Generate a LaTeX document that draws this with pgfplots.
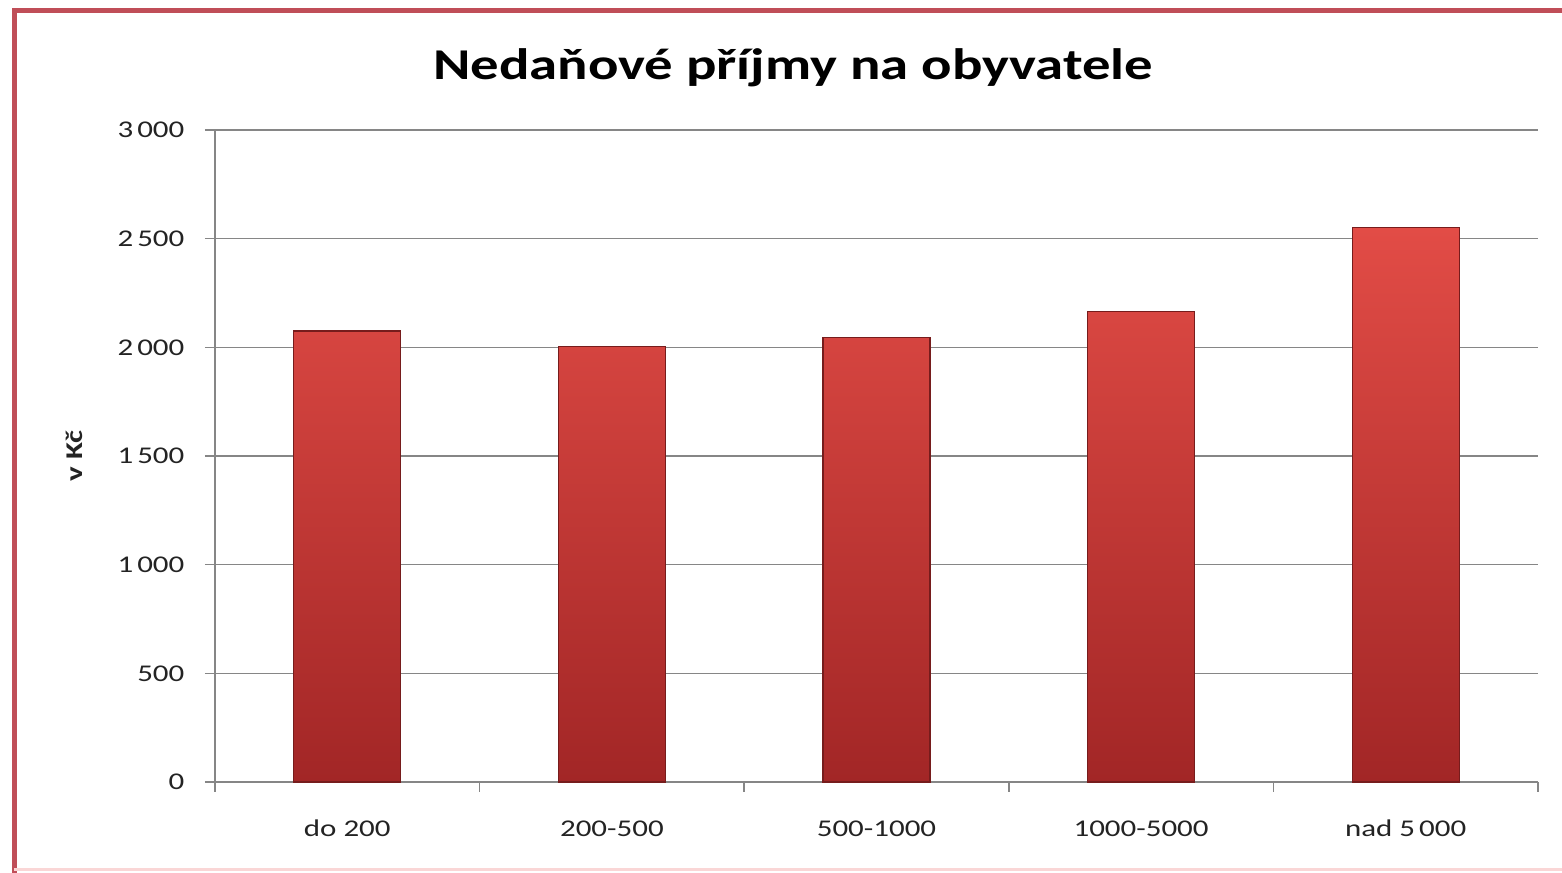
\documentclass[border=0pt]{standalone}
\usepackage{fontspec}
\setmainfont{Carlito}[FakeStretch=1.29]
\usepackage{pgfplots}
\pgfplotsset{compat=1.18}

\definecolor{framered}{RGB}{192,78,88}
\definecolor{framepink}{RGB}{250,214,214}
\definecolor{bartop}{RGB}{226,76,70}
\definecolor{barbot}{RGB}{162,38,38}
\definecolor{baredge}{RGB}{118,28,28}
\definecolor{gridgray}{RGB}{134,134,134}
\definecolor{labgray}{RGB}{35,35,35}

\begin{document}
\begin{tikzpicture}
\path[use as bounding box] (0pt,0pt) rectangle (468.6pt,261.9pt);
% outer frame (cut off on the right)
\draw[line width=1.5pt, framered] (4.2pt,0pt) -- (4.2pt,258.6pt) -- (470pt,258.6pt);
\draw[line width=0.8pt, framepink] (4.2pt,1.0pt) -- (470pt,1.0pt);

\begin{axis}[
    at={(64.5pt,27.3pt)}, anchor=south west,
    scale only axis,
    width=396.9pt, height=195.6pt,
    ybar, bar width=32.1pt,
    xmin=-0.5, xmax=4.5,
    ymin=0, ymax=3000,
    ytick={0,500,...,3000},
    xtick={-0.5,0.5,1.5,2.5,3.5,4.5},
    xticklabels={},
    extra x ticks={0,1,2,3,4},
    extra x tick labels={do 200, 200-500, 500-1000, 1000-5000, nad 5\,000},
    extra x tick style={major tick length=0pt},
    axis lines=left,
    axis line style={-, gridgray, line width=0.45pt},
    tick style={gridgray, line width=0.45pt},
    tick align=outside,
    major tick length=3pt,
    ymajorgrids,
    grid style={gridgray, line width=0.45pt},
    /pgf/number format/assume math mode=true,
    /pgf/number format/1000 sep={\,},
    ticklabel style={font=\fontsize{7.2}{8}\selectfont, text=labgray},
    yticklabel style={anchor=east, inner sep=0pt, xshift=-6pt},
    xticklabel style={anchor=center, yshift=-14pt},
    title={Nedaňové příjmy na obyvatele},
    title style={font=\bfseries\fontsize{13.2}{15}\selectfont, at={(axis description cs:0.437,1.065)}, anchor=center},
    ylabel={v Kč},
    ylabel style={font=\bfseries\fontsize{7.2}{8}\selectfont, text=labgray, at={(axis description cs:-0.106,0.50)}, anchor=center, rotate=0},
    clip=false,
]
\addplot[top color=bartop, bottom color=barbot, draw=baredge, line width=0.4pt]
  coordinates {(0,2075) (1,2005) (2,2045) (3,2165) (4,2550)};
\end{axis}
\end{tikzpicture}
\end{document}
